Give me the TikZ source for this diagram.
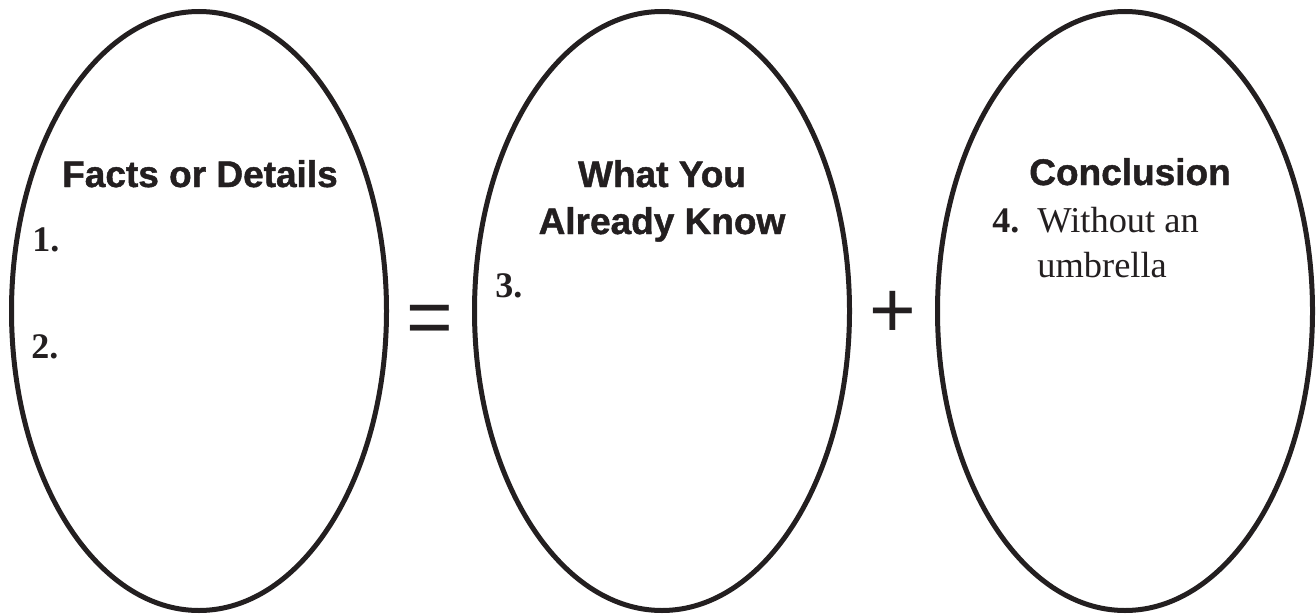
\documentclass[tikz,border=0pt]{standalone}
\usepackage{fontspec}
\setmainfont{Liberation Serif}
\setsansfont[BoldFeatures={FakeBold=1.2}]{Liberation Sans}
\usepackage{tikz}
\usetikzlibrary{positioning,shapes.geometric}
\definecolor{ink}{HTML}{231F20}

\begin{document}
\begin{tikzpicture}[
  x=0.5pt,y=-0.5pt,
  every node/.style={text=ink},
  bubble/.style={ellipse,draw=ink,line width=2.5pt,minimum width=187.5pt,minimum height=299.5pt,inner sep=0pt},
  heading/.style={font=\sffamily\bfseries\fontsize{18.5}{23.5}\selectfont,align=center,inner sep=0pt,anchor=base},
  num/.style={font=\bfseries\fontsize{18}{22}\selectfont,inner sep=0pt,anchor=base west},
  entry/.style={font=\fontsize{18.2}{22.5}\selectfont,align=left,inner sep=0pt,anchor=base west},
  op/.style={font=\sffamily\fontsize{40}{40}\selectfont,inner sep=0pt}
]
\useasboundingbox (0,0) rectangle (1316,615);
\node[bubble] (facts) at (199,311) {};
\node[bubble,right=41.5pt of facts] (known) {};
\node[bubble,right=41.5pt of known] (concl) {};

\node[heading] (factstitle) at (200,187) {Facts or Details};
\node[num] (n1) at (32,251) {1.};
\node[num] (n2) at (31,358) {2.};

\node[heading] (knowntitle) at (662,234) {What You\\Already Know};
\node[num] (n3) at (495,297) {3.};

\node[heading] (concltitle) at (1130,185) {Conclusion};
\node[num] (n4) at (992,232) {4.};
\node[entry] (answer) at (1037,277) {Without an\\umbrella};

\node[op] (equals) at (430,325) {=};
\node[op] (plus) at (893,314) {+};
\end{tikzpicture}
\end{document}
